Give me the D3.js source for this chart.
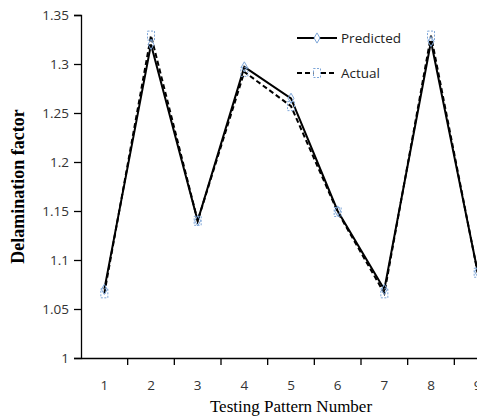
<!DOCTYPE html>
<html>
<head>
  <script src="https://d3js.org/d3.v7.min.js"></script>
  <style>
    body { margin: 0; background: #fff; }
    .tick text { font-family: "Open Sans", "Liberation Sans", sans-serif; font-size: 13.5px; fill: #333; }
    .axis path, .axis line { stroke: #000; stroke-width: 1.3px; }
  </style>
</head>
<body>
  <div id="chart"></div>
  <script>
    // data
    const patterns = ["1", "2", "3", "4", "5", "6", "7", "8", "9"];
    const predicted = [1.070, 1.320, 1.140, 1.297, 1.265, 1.150, 1.070, 1.323, 1.088];
    const actual = [1.066, 1.329, 1.140, 1.292, 1.257, 1.149, 1.066, 1.329, 1.087];
    const yTicks = [1, 1.05, 1.1, 1.15, 1.2, 1.25, 1.3, 1.35];
    const yTickLabels = ["1", "1.05", "1.1", "1.15", "1.2", "1.25", "1.3", "1.35"];

    const W = 477, H = 416;
    const margin = { top: 15, left: 81, bottom: 58 };
    const plotW = 420;  // runs past the right edge like the original
    const plotH = H - margin.top - margin.bottom;

    const svg = d3.select("#chart").append("svg")
      .attr("width", W).attr("height", H);

    const g = svg.append("g")
      .attr("transform", `translate(${margin.left},${margin.top})`);

    const x = d3.scaleBand().domain(patterns).range([0, plotW]);
    const y = d3.scaleLinear().domain([1, 1.35]).range([plotH, 0]);

    // y axis
    g.append("g").attr("class", "axis")
      .call(d3.axisLeft(y).tickValues(yTicks)
        .tickFormat((d, i) => yTickLabels[i]).tickSize(7).tickPadding(5));

    // x axis with ticks between the categories
    const xAxis = g.append("g").attr("class", "axis")
      .attr("transform", `translate(0,${plotH})`)
      .call(d3.axisBottom(x).tickSize(0).tickPadding(22));
    xAxis.selectAll(".sep")
      .data(patterns.slice(1))
      .enter().append("line")
      .attr("x1", d => x(d)).attr("x2", d => x(d))
      .attr("y1", 0).attr("y2", 7)
      .attr("stroke", "#000").attr("stroke-width", 1.3);
    g.selectAll(".domain").attr("stroke-width", 1.5);

    const cx = (d, i) => x(patterns[i]) + x.bandwidth() / 2;
    const line = d3.line().x(cx).y(d => y(d));

    // actual: dashed
    g.append("path").datum(actual)
      .attr("fill", "none").attr("stroke", "#000")
      .attr("stroke-width", 2).attr("stroke-dasharray", "5,3")
      .attr("d", line);

    // predicted: solid
    g.append("path").datum(predicted)
      .attr("fill", "none").attr("stroke", "#000")
      .attr("stroke-width", 2)
      .attr("d", line);

    const markColor = "#7ea6d8";

    // square markers (actual)
    g.selectAll(".sq").data(actual).enter().append("rect")
      .attr("x", (d, i) => cx(d, i) - 3.5).attr("y", d => y(d) - 4.5)
      .attr("width", 7).attr("height", 9)
      .attr("fill", "none").attr("stroke", markColor)
      .attr("stroke-width", 1).attr("stroke-dasharray", "2,1.5");

    // diamond markers (predicted)
    const diamond = d3.symbol().type(d3.symbolDiamond).size(30);
    g.selectAll(".dm").data(predicted).enter().append("path")
      .attr("transform", (d, i) => `translate(${cx(d, i)},${y(d)})`)
      .attr("d", diamond)
      .attr("fill", "none").attr("stroke", markColor).attr("stroke-width", 1);

    // legend
    const legend = svg.append("g");
    const items = [
      { name: "Predicted", dash: null, y: 38 },
      { name: "Actual", dash: "5,3", y: 73 }
    ];
    items.forEach(it => {
      legend.append("line")
        .attr("x1", 297).attr("x2", 337).attr("y1", it.y).attr("y2", it.y)
        .attr("stroke", "#000").attr("stroke-width", 2)
        .attr("stroke-dasharray", it.dash);
      if (it.dash) {
        legend.append("rect")
          .attr("x", 313.5).attr("y", it.y - 4.5).attr("width", 7).attr("height", 9)
          .attr("fill", "#fff").attr("stroke", markColor)
          .attr("stroke-width", 1).attr("stroke-dasharray", "2,1.5");
      } else {
        legend.append("path")
          .attr("transform", `translate(317,${it.y})`)
          .attr("d", diamond)
          .attr("fill", "#fff").attr("stroke", markColor).attr("stroke-width", 1);
      }
      legend.append("text")
        .attr("x", 341).attr("y", it.y + 5)
        .attr("font-family", "'Open Sans', 'Liberation Sans', sans-serif")
        .attr("font-size", 13.5).attr("fill", "#222")
        .text(it.name);
    });

    // axis titles
    svg.append("text")
      .attr("x", margin.left + plotW / 2).attr("y", 412)
      .attr("text-anchor", "middle")
      .attr("font-family", "'Liberation Serif', serif")
      .attr("font-size", 17).attr("fill", "#000")
      .text("Testing Pattern Number");

    svg.append("text")
      .attr("transform", `translate(24,${margin.top + plotH / 2}) rotate(-90)`)
      .attr("text-anchor", "middle")
      .attr("font-family", "'Liberation Serif', serif")
      .attr("font-weight", "bold")
      .attr("font-size", 18).attr("fill", "#000")
      .text("Delamination factor");
  </script>
</body>
</html>
